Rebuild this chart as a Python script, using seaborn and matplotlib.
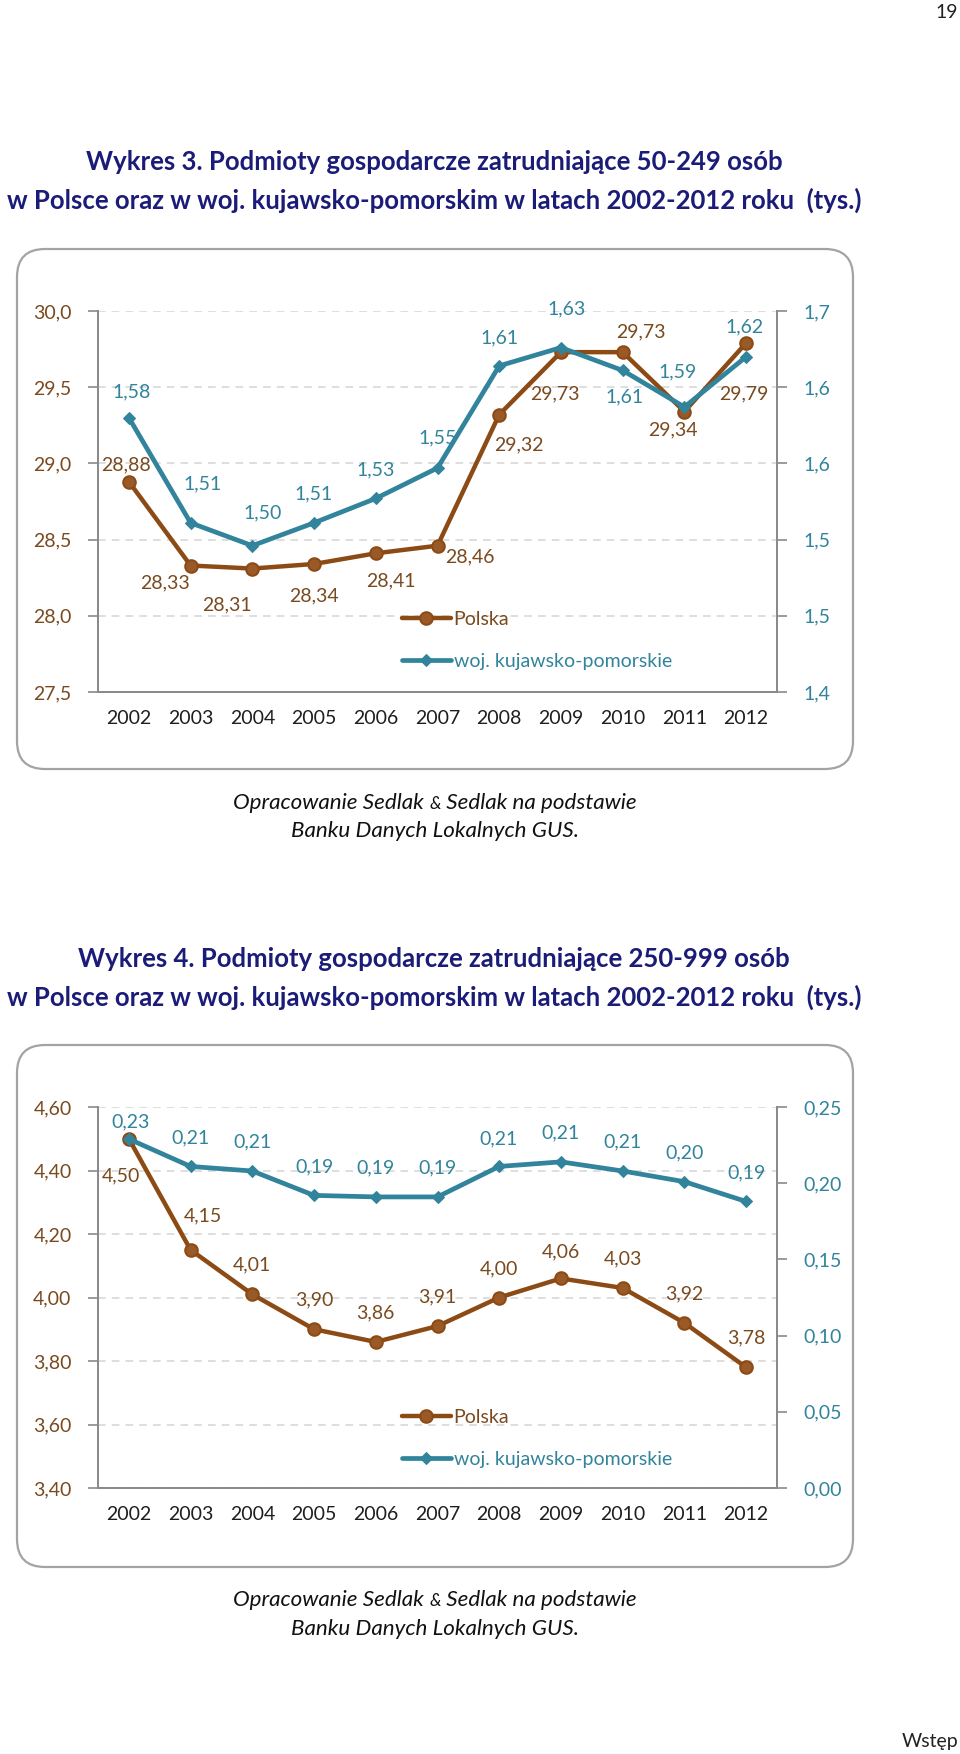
import numpy as np
import pandas as pd
import matplotlib
matplotlib.use("Agg")
import matplotlib.pyplot as plt
import seaborn as sns
from matplotlib.patches import FancyBboxPatch
from matplotlib.transforms import IdentityTransform

# ---------------- data ----------------
years = ["2002", "2003", "2004", "2005", "2006", "2007", "2008", "2009", "2010", "2011", "2012"]
series_names = ["Polska", "woj. kujawsko-pomorskie"]

# Wykres 3 (50-249 osób)
w3_polska = [28.88, 28.33, 28.31, 28.34, 28.41, 28.46, 29.32, 29.73, 29.73, 29.34, 29.79]
w3_kp = [1.580, 1.511, 1.496, 1.511, 1.527, 1.547, 1.614, 1.626, 1.611, 1.587, 1.620]
w3_left_ticks = [27.5, 28.0, 28.5, 29.0, 29.5, 30.0]
w3_left_labels = ["27,5", "28,0", "28,5", "29,0", "29,5", "30,0"]
w3_right_ticks = [1.40, 1.45, 1.50, 1.55, 1.60, 1.65]
w3_right_labels = ["1,4", "1,5", "1,5", "1,6", "1,6", "1,7"]

# Wykres 4 (250-999 osób)
w4_polska = [4.50, 4.15, 4.01, 3.90, 3.86, 3.91, 4.00, 4.06, 4.03, 3.92, 3.78]
w4_kp = [0.229, 0.211, 0.208, 0.192, 0.191, 0.191, 0.211, 0.214, 0.208, 0.201, 0.188]
w4_left_ticks = [3.40, 3.60, 3.80, 4.00, 4.20, 4.40, 4.60]
w4_left_labels = ["3,40", "3,60", "3,80", "4,00", "4,20", "4,40", "4,60"]
w4_right_ticks = [0.00, 0.05, 0.10, 0.15, 0.20, 0.25]
w4_right_labels = ["0,00", "0,05", "0,10", "0,15", "0,20", "0,25"]

title3 = ["Wykres 3. Podmioty gospodarcze zatrudniające 50-249 osób",
          "w Polsce oraz w woj. kujawsko-pomorskim w latach 2002-2012 roku  (tys.)"]
title4 = ["Wykres 4. Podmioty gospodarcze zatrudniające 250-999 osób",
          "w Polsce oraz w woj. kujawsko-pomorskim w latach 2002-2012 roku  (tys.)"]
source_line1 = ["Opracowanie Sedlak ", "&", " Sedlak na podstawie"]
source_line2 = "Banku Danych Lokalnych GUS."

# ---------------- label offsets (pixels, dy down) ----------------
w3_pol_off = [(-3, -17), (-26, 17), (-25, 36), (0, 32), (15, 28), (32, 11),
              (20, 30), (-6, 42), (18, -20), (-12, 18), (-2, 51)]
w3_kp_off = [(3, -26), (12, -39), (10, -33), (0, -29), (0, -29), (0, -30),
             (0, -28), (6, -39), (2, 26), (-7, -35), (-2, -30)]
w4_pol_off = [(-8, 37), (12, -34), (0, -29), (0, -29), (0, -29), (0, -29),
              (0, -29), (0, -27), (0, -29), (0, -29), (0, -29)]
w4_kp_off = [(2, -17), (0, -29), (0, -29), (0, -29), (0, -29), (0, -29),
             (-1, -28), (0, -29), (0, -29), (0, -29), (0, -29)]

# ---------------- style ----------------
sns.set_style("white")
plt.rcParams["font.family"] = ["Lato", "DejaVu Sans"]

BROWN = "#8C4A14"
BROWN_TXT = "#7A4A1E"
TEAL = "#31849B"
NAVY = "#1B1B78"
AXGRAY = "#8A8A8A"
GRID = "#D4D4D4"
FS = 14

W, H = 960, 1754
fig = plt.figure(figsize=(W / 100, H / 100), dpi=100)
fig.patch.set_facecolor("white")


def fx(x):
    return x / W


def fy(y):
    return 1 - y / H


renderer = fig.canvas.get_renderer()


def fit_text(x, y, s, target_w, **kw):
    t = fig.text(fx(x), fy(y), s, **kw)
    w = t.get_window_extent(renderer).width
    t.set_fontsize(t.get_fontsize() * target_w / w)
    return t


def centered_parts(xc, y, parts, sizes, **kw):
    texts = [fig.text(0, fy(y), p, fontsize=s, ha="left", va="baseline", **kw)
             for p, s in zip(parts, sizes)]
    widths = [t.get_window_extent(renderer).width for t in texts]
    x = xc - sum(widths) / 2
    for t, w in zip(texts, widths):
        t.set_x(fx(x))
        x += w


def box(top, bottom, left=17, right=853):
    p = FancyBboxPatch((left, H - bottom), right - left, bottom - top,
                       boxstyle="round,pad=0,rounding_size=28",
                       transform=IdentityTransform(), facecolor="none",
                       edgecolor="#A3A3A3", linewidth=1.6, zorder=0)
    fig.patches.append(p)


def chart(top, bottom, pol, kp, lt, ll, rt, rl, pol_off, kp_off, leg_top):
    left, right = 98, 777
    ax = fig.add_axes([fx(left), fy(bottom), (right - left) / W, (bottom - top) / H])
    ax2 = ax.twinx()
    idx = np.arange(len(years))
    df = pd.DataFrame({"idx": idx, "pol": pol, "kp": kp})

    sns.lineplot(data=df, x="idx", y="pol", ax=ax, color=BROWN, linewidth=3.2,
                 marker="o", markersize=9, markeredgecolor=BROWN, markeredgewidth=1.5,
                 markerfacecolor="#9A5A28", label=series_names[0], legend=False)
    sns.lineplot(data=df, x="idx", y="kp", ax=ax2, color=TEAL, linewidth=3.4,
                 marker="D", markersize=6.5, markeredgecolor=TEAL,
                 markerfacecolor=TEAL, label=series_names[1], legend=False)

    ax.set_xlim(-0.5, len(years) - 0.5)
    ax.set_ylim(lt[0], lt[-1])
    ax2.set_ylim(rt[0], rt[-1])
    ax.set_xlabel("")
    ax.set_ylabel("")
    ax2.set_ylabel("")

    ax.set_xticks(idx)
    ax.set_xticklabels(years)
    ax.set_xticks(np.arange(-0.5, len(years), 1.0), minor=True)
    ax.tick_params(axis="x", which="major", length=0, pad=13, labelsize=FS, labelcolor="#1E1E1E")
    ax.tick_params(axis="x", which="minor", length=6, width=1.2, color=AXGRAY, direction="out")

    ax.set_yticks(lt)
    ax.set_yticklabels(ll)
    ax.tick_params(axis="y", which="major", length=7, width=1.2, color=AXGRAY,
                   direction="out", pad=12, labelsize=FS, labelcolor=BROWN_TXT)
    ax2.set_yticks(rt)
    ax2.set_yticklabels(rl)
    ax2.tick_params(axis="y", which="major", length=7, width=1.2, color=AXGRAY,
                    direction="out", pad=12, labelsize=FS, labelcolor=TEAL)

    ax.grid(False)
    ax2.grid(False)
    ax.yaxis.grid(True, color=GRID, linestyle=(0, (5, 4)), linewidth=1.1)
    ax.set_axisbelow(True)
    for a in (ax, ax2):
        a.spines["top"].set_visible(False)
        for side in ("left", "right", "bottom"):
            a.spines[side].set_color(AXGRAY)
            a.spines[side].set_linewidth(1.3)
        a.patch.set_alpha(0)

    for i, v in enumerate(pol):
        dx, dy = pol_off[i]
        ax.annotate(f"{v:.2f}".replace(".", ","), xy=(i, v), xytext=(dx * 0.72, -dy * 0.72),
                    textcoords="offset points", ha="center", va="center",
                    fontsize=FS, color=BROWN_TXT, zorder=5)
    for i, v in enumerate(kp):
        dx, dy = kp_off[i]
        ax2.annotate(f"{v:.2f}".replace(".", ","), xy=(i, v), xytext=(dx * 0.72, -dy * 0.72),
                     textcoords="offset points", ha="center", va="center",
                     fontsize=FS, color=TEAL, zorder=5)

    handles = [ax.lines[0], ax2.lines[0]]
    ax2.legend(handles, series_names, loc="upper left",
               bbox_to_anchor=(fx(402), fy(leg_top)), bbox_transform=fig.transFigure,
               frameon=False, handlelength=2.5, handletextpad=0.15, labelspacing=1.3,
               borderpad=0, borderaxespad=0, fontsize=FS, labelcolor=[BROWN_TXT, TEAL],
               numpoints=1)
    return ax, ax2


# ---------------- page ----------------
fig.text(fx(958), fy(12), "19", ha="right", va="center", fontsize=14, color="#222222")
fig.text(fx(958), fy(1742), "Wstęp", ha="right", va="center", fontsize=14, color="#222222")

t = fit_text(434, 200, title3[1], 858, ha="center", va="center", fontsize=16,
             fontweight="bold", color=NAVY)
tsize = t.get_fontsize()
fig.text(fx(434), fy(162), title3[0], ha="center", va="center", fontsize=tsize,
         fontweight="bold", color=NAVY)
fig.text(fx(434), fy(959), title4[0], ha="center", va="center", fontsize=tsize,
         fontweight="bold", color=NAVY)
fig.text(fx(434), fy(997), title4[1], ha="center", va="center", fontsize=tsize,
         fontweight="bold", color=NAVY)

probe = fig.text(0, 0, "".join(source_line1), fontsize=14, fontstyle="italic")
csize = 14 * 409 / probe.get_window_extent(renderer).width
probe.remove()
for yb1, yb2 in ((809, 837), (1606, 1635)):
    centered_parts(435, yb1, source_line1, [csize, csize * 0.78, csize],
                   fontstyle="italic", color="#111111")
    fig.text(fx(435), fy(yb2), source_line2, ha="center", va="baseline", fontsize=csize,
             fontstyle="italic", color="#111111")

box(249, 769)
box(1045, 1567)

chart(311, 692, w3_polska, w3_kp, w3_left_ticks, w3_left_labels, w3_right_ticks,
      w3_right_labels, w3_pol_off, w3_kp_off, leg_top=611)
chart(1107, 1488, w4_polska, w4_kp, w4_left_ticks, w4_left_labels, w4_right_ticks,
      w4_right_labels, w4_pol_off, w4_kp_off, leg_top=1409)

fig.savefig("out.png", dpi=100, facecolor="white")
